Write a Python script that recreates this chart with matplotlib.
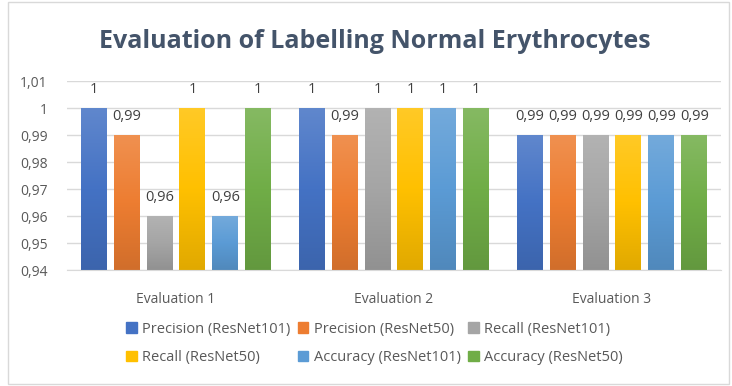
import numpy as np
import matplotlib.pyplot as plt
from matplotlib.colors import LinearSegmentedColormap, to_rgb
from matplotlib.patches import Rectangle

plt.rcParams['font.family'] = ['Open Sans', 'DejaVu Sans']

categories = ['Evaluation 1', 'Evaluation 2', 'Evaluation 3']
series = ['Precision (ResNet101)', 'Precision (ResNet50)', 'Recall (ResNet101)',
          'Recall (ResNet50)', 'Accuracy (ResNet101)', 'Accuracy (ResNet50)']
precision_101 = [1.00, 1.00, 0.99]
precision_50 = [0.99, 0.99, 0.99]
recall_101 = [0.96, 1.00, 0.99]
recall_50 = [1.00, 1.00, 0.99]
accuracy_101 = [0.96, 1.00, 0.99]
accuracy_50 = [1.00, 1.00, 0.99]
values = [precision_101, precision_50, recall_101, recall_50, accuracy_101, accuracy_50]
yticks = [0.94, 0.95, 0.96, 0.97, 0.98, 0.99, 1.00, 1.01]

colors = ['#4472C4', '#ED7D31', '#A5A5A5', '#FFC000', '#5B9BD5', '#70AD47']


def fmt(v):
    s = ('%.2f' % v).rstrip('0').rstrip('.')
    return s.replace('.', ',')


def shade(c, f):
    r, g, b = to_rgb(c)
    if f > 0:
        return (r + (1 - r) * f, g + (1 - g) * f, b + (1 - b) * f)
    return (r * (1 + f), g * (1 + f), b * (1 + f))


fig = plt.figure(figsize=(7.32, 3.86), dpi=100)
ax = fig.add_axes([0.0915, 0.3005, 0.8934, 0.4896])
ymin, ymax = 0.94, 1.01
ax.set_xlim(-0.5, 2.5)
ax.set_ylim(ymin, ymax)

width = 0.119
pitch = 0.151
x = np.arange(len(categories))
handles = []
for i, (name, vals, c) in enumerate(zip(series, values, colors)):
    offs = x + (i - 2.5) * pitch
    bars = ax.bar(offs, np.array(vals) - ymin, width, bottom=ymin, color=c,
                  label=name, zorder=2)
    # vertical gradient, lighter at the top
    cmap = LinearSegmentedColormap.from_list('g%d' % i, [shade(c, -0.12), c, shade(c, 0.15)])
    grad = np.linspace(0, 1, 256).reshape(-1, 1)
    for b in bars:
        b.set_facecolor('none')
        b.set_edgecolor('none')
        im = ax.imshow(grad, cmap=cmap, origin='lower', aspect='auto', zorder=2,
                       extent=[b.get_x(), b.get_x() + b.get_width(), ymin, b.get_y() + b.get_height()])
        im.set_clip_path(b)
    for xx, v in zip(offs, vals):
        ax.annotate(fmt(v), (xx, v), xytext=(0, 13), textcoords='offset points',
                    ha='center', va='center', fontsize=10.5, color='#404040')
    handles.append(Rectangle((0, 0), 1, 1, color=c))

ax.set_xlim(-0.5, 2.5)
ax.set_yticks(yticks)
ax.set_yticklabels([fmt(t) for t in yticks], fontsize=10, color='#595959')
ax.set_xticks(x)
ax.set_xticklabels(categories, fontsize=10, color='#595959')
ax.tick_params(axis='x', length=0, pad=16)
ax.tick_params(axis='y', length=0, pad=14)
ax.grid(axis='y', color='#D9D9D9', linewidth=1, zorder=0)
for s in ['top', 'right', 'left']:
    ax.spines[s].set_visible(False)
ax.spines['bottom'].set_color('#D9D9D9')

fig.text(0.512, 0.893, 'Evaluation of Labelling Normal Erythrocytes', ha='center', va='center',
         fontsize=18, fontweight='bold', color='#44546A')

order = [0, 3, 1, 4, 2, 5]
fig.legend([handles[k] for k in order], [series[k] for k in order], ncol=3,
           loc='center', bbox_to_anchor=(0.512, 0.11), frameon=False, fontsize=10.5,
           handlelength=0.7, handleheight=0.7, handletextpad=0.4, columnspacing=0.5,
           labelspacing=0.95, labelcolor='#595959')

fig.patches.append(Rectangle((0.011, 0.004), 0.985, 0.992, transform=fig.transFigure,
                             fill=False, edgecolor='#D9D9D9', linewidth=1))

fig.savefig('out.png', dpi=100)
